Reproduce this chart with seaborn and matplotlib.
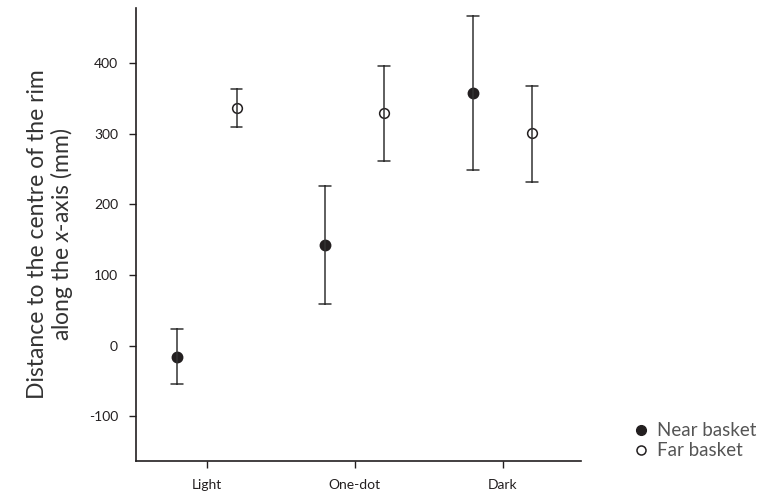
import pandas as pd
import numpy as np
import matplotlib
matplotlib.use('Agg')
import matplotlib.pyplot as plt
import seaborn as sns
from matplotlib.lines import Line2D

# ---------- dados ----------
categorias = ['Light', 'One-dot', 'Dark']
grupos     = ['Near basket', 'Far basket']

near_media    = [-16, 143, 358]
near_inferior = [-54, 59, 249]
near_superior = [24, 226, 467]

far_media     = [337, 330, 301]
far_inferior  = [310, 262, 232]
far_superior  = [364, 396, 368]

# tabela longa: (inferior, média, superior) -> mediana = ponto, min/max = barra
linhas = []
for g, med, inf, sup in [('Near basket', near_media, near_inferior, near_superior),
                         ('Far basket', far_media, far_inferior, far_superior)]:
    for c, m, lo, hi in zip(categorias, med, inf, sup):
        for v in (lo, m, hi):
            linhas.append({'Condição': c, 'Cesta': g, 'Distância': v})
df = pd.DataFrame(linhas)

sns.set_style('white')
plt.rcParams['font.family'] = ['Lato', 'DejaVu Sans']
plt.rcParams['mathtext.fontset'] = 'custom'
plt.rcParams['mathtext.it'] = 'Lato:italic'
plt.rcParams['axes.unicode_minus'] = False

cor = '#231f20'
fig, ax = plt.subplots(figsize=(7.71, 4.98), dpi=100)
fig.subplots_adjust(left=0.1764, right=0.7536, bottom=0.0743, top=0.984)

sns.pointplot(data=df, x='Condição', y='Distância', hue='Cesta',
              hue_order=grupos, order=categorias,
              estimator='median', errorbar=lambda v: (v.min(), v.max()),
              dodge=0.4, linestyle='none', capsize=0.08,
              palette=[cor, cor], markers=['o', 'o'],
              err_kws={'linewidth': 1.1, 'color': '#333333'},
              markersize=6.5, ax=ax, legend=False)

# marcadores vazios para "Far basket"
pontos = [l for l in ax.lines if l.get_marker() == 'o']
pontos[1].set_markerfacecolor('white')
pontos[1].set_markeredgecolor(cor)
pontos[1].set_markeredgewidth(1.1)
pontos[1].set_markersize(7)

ax.set_xlim(-0.48, 2.53)
ax.set_ylim(-163, 478)
ax.set_yticks([-100, 0, 100, 200, 300, 400])
ax.set_xlabel('')
ax.set_ylabel('Distance to the centre of the rim\nalong the $x$-axis (mm)',
              fontsize=16.5, color='#333333', labelpad=10, linespacing=1.0)
ax.tick_params(axis='both', labelsize=10, colors=cor, length=5, width=1,
               direction='out', left=True, bottom=True)
ax.tick_params(axis='y', pad=8)
ax.tick_params(axis='x', pad=8)
sns.despine(ax=ax)
for s in ['left', 'bottom']:
    ax.spines[s].set_color(cor)
    ax.spines[s].set_linewidth(1.2)

handles = [Line2D([], [], marker='o', linestyle='none', markersize=7,
                  markerfacecolor=cor, markeredgecolor=cor),
           Line2D([], [], marker='o', linestyle='none', markersize=6.5,
                  markerfacecolor='white', markeredgecolor=cor, markeredgewidth=1.1)]
fig.legend(handles, grupos, loc='center left', bbox_to_anchor=(0.797, 0.115),
           frameon=False, fontsize=13.5, handletextpad=0.35, labelspacing=0.15,
           handlelength=1.0, labelcolor='#555555')

plt.savefig('out.png', dpi=100)
plt.close()
